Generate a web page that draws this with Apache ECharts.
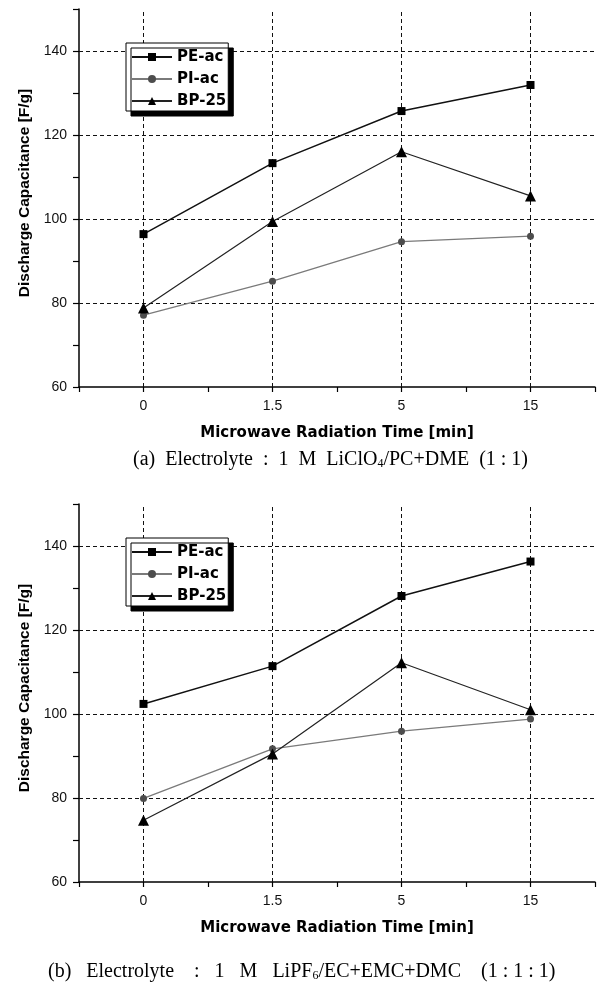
<!DOCTYPE html>
<html>
<head>
<meta charset="utf-8">
<script src="https://cdn.jsdelivr.net/npm/echarts@6/dist/echarts.min.js"></script>
<style>
  html, body { margin: 0; padding: 0; background: #fff; }
  #chart { width: 601px; height: 986px; }
</style>
</head>
<body>
<div id="chart"></div>
<script>
// Microwave radiation time categories
const timeLabels = ['0', '1.5', '5', '15'];

// (a) 1 M LiClO4/PC+DME electrolyte, discharge capacitance [F/g]
const peAcA = [96.4, 113.3, 125.7, 131.9];
const piAcA = [77.1, 85.2, 94.6, 95.9];
const bp25A = [78.8, 99.4, 116.0, 105.5];

// (b) 1 M LiPF6/EC+EMC+DMC electrolyte, discharge capacitance [F/g]
const peAcB = [102.4, 111.4, 128.1, 136.3];
const piAcB = [79.9, 91.7, 95.9, 98.8];
const bp25B = [74.7, 90.5, 112.2, 101.0];

// y tick labels and dashed reference lines
const yTickLabels = [60, 80, 100, 120, 140];
const yGridValues = [80, 100, 120, 140];
const seriesNames = ['PE-ac', 'PI-ac', 'BP-25'];

const Y_MIN = 60, Y_MAX = 150;
const X_MIN = -0.5, X_MAX = 3.5;

const SANS = 'Liberation Sans, Arial, sans-serif';
const HEAVY = 'DejaVu Sans, Verdana, sans-serif';
const SERIF = 'Liberation Serif, Times New Roman, serif';

const toPairs = vals => vals.map((v, i) => [i, v]);

const grids = [
  { left: 79, top: 9, width: 516, height: 378 },
  { left: 79, top: 504, width: 516, height: 378 }
];

function xAxisFor(gi) {
  return {
    type: 'value', gridIndex: gi, min: X_MIN, max: X_MAX, interval: 0.5,
    axisLine: { show: true, onZero: false, lineStyle: { color: '#000', width: 1.5 } },
    axisTick: { show: true, length: 5, lineStyle: { color: '#000', width: 1.2 } },
    axisLabel: {
      margin: 12, fontFamily: SANS, fontSize: 14, color: '#111',
      formatter: v => (Number.isInteger(v) && v >= 0 && v < timeLabels.length) ? timeLabels[v] : ''
    },
    splitLine: { show: false },
    name: 'Microwave Radiation Time [min]',
    nameLocation: 'middle', nameGap: 39,
    nameTextStyle: { fontFamily: HEAVY, fontSize: 15, fontWeight: 'bold', color: '#000' }
  };
}

function yAxisFor(gi) {
  return {
    type: 'value', gridIndex: gi, min: Y_MIN, max: Y_MAX, interval: 10,
    axisLine: { show: true, onZero: false, lineStyle: { color: '#000', width: 1.5 } },
    axisTick: { show: true, length: 6, lineStyle: { color: '#000', width: 1.2 } },
    axisLabel: {
      margin: 12, fontFamily: SANS, fontSize: 14, color: '#111',
      formatter: v => yTickLabels.includes(v) ? String(v) : ''
    },
    splitLine: { show: false },
    name: 'Discharge Capacitance [F/g]',
    nameLocation: 'middle', nameRotate: 90, nameGap: 46,
    nameTextStyle: { fontFamily: SANS, fontSize: 15.5, fontWeight: 'bold', color: '#000', padding: [0, 0, 0, 10] }
  };
}

const dashed = { color: '#111', width: 1, type: [4, 3] };

// dashed grid drawn as mark lines at the labelled values only
function gridLines(gi) {
  const horiz = yGridValues.map(v => [{ coord: [X_MIN, v] }, { coord: [X_MAX, v] }]);
  const vert = timeLabels.map((t, i) => [{ coord: [i, Y_MIN] }, { coord: [i, Y_MAX] }]);
  return {
    type: 'line', xAxisIndex: gi, yAxisIndex: gi, data: [], silent: true, z: 1,
    markLine: {
      silent: true, symbol: ['none', 'none'], z: 1, animation: false,
      label: { show: false },
      lineStyle: dashed,
      emphasis: { disabled: true },
      data: [...horiz, ...vert]
    }
  };
}

function dataSeries(gi, pe, pi, bp) {
  return [
    {
      name: 'PE-ac', type: 'line', xAxisIndex: gi, yAxisIndex: gi, z: 4,
      data: toPairs(pe), symbol: 'rect', symbolSize: 8,
      lineStyle: { color: '#111', width: 1.5 }, itemStyle: { color: '#000' }
    },
    {
      name: 'PI-ac', type: 'line', xAxisIndex: gi, yAxisIndex: gi, z: 3,
      data: toPairs(pi), symbol: 'circle', symbolSize: 7,
      lineStyle: { color: '#7a7a7a', width: 1.3 }, itemStyle: { color: '#4d4d4d' }
    },
    {
      name: 'BP-25', type: 'line', xAxisIndex: gi, yAxisIndex: gi, z: 4,
      data: toPairs(bp), symbol: 'triangle', symbolSize: 11,
      lineStyle: { color: '#222', width: 1.2 }, itemStyle: { color: '#000' }
    }
  ];
}

function legendFor(top) {
  return {
    data: seriesNames, orient: 'vertical', left: 126, top: top, z: 20,
    itemWidth: 40, itemHeight: 10, itemGap: 4,
    padding: [5, 2, 1, 5],
    backgroundColor: '#fff', borderColor: '#000', borderWidth: 1, borderRadius: 0,
    shadowColor: '#000', shadowBlur: 0, shadowOffsetX: 5, shadowOffsetY: 5,
    selectedMode: false,
    textStyle: { fontFamily: HEAVY, fontSize: 15, fontWeight: 'bold', color: '#000', lineHeight: 18 }
  };
}

const richCaption = {
  n: { fontFamily: SERIF, fontSize: 20, color: '#111', lineHeight: 24, verticalAlign: 'bottom' },
  s: { fontFamily: SERIF, fontSize: 12, color: '#111', lineHeight: 18, verticalAlign: 'bottom' }
};

const option = {
  animation: false,
  backgroundColor: '#fff',
  grid: grids,
  xAxis: [xAxisFor(0), xAxisFor(1)],
  yAxis: [yAxisFor(0), yAxisFor(1)],
  legend: [legendFor(43), legendFor(538)],
  series: [
    gridLines(0), gridLines(1),
    ...dataSeries(0, peAcA, piAcA, bp25A),
    ...dataSeries(1, peAcB, piAcB, bp25B)
  ],
  graphic: [
    {
      type: 'text', left: 133, top: 450,
      style: { text: '{n|(a)  Electrolyte  :  1  M  LiClO}{s|4}{n|/PC+DME  (1 : 1)}', rich: richCaption }
    },
    {
      type: 'text', left: 48, top: 962,
      style: { text: '{n|(b)   Electrolyte    :   1   M   LiPF}{s|6}{n|/EC+EMC+DMC    (1 : 1 : 1)}', rich: richCaption }
    }
  ]
};

const chart = echarts.init(document.getElementById('chart'), null, { renderer: 'canvas' });
chart.setOption(option);
</script>
</body>
</html>
